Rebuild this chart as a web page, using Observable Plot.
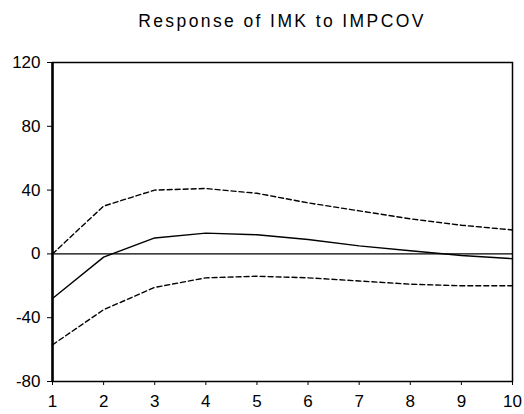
<!DOCTYPE html>
<html>
<head>
<meta charset="utf-8">
<script src="https://cdn.jsdelivr.net/npm/d3@7"></script>
<script src="https://cdn.jsdelivr.net/npm/@observablehq/plot@0.6"></script>
<style>
  html, body { margin: 0; padding: 0; background: #fff; }
  #title { height: 40px; width: 524px; box-sizing: border-box; padding-left: 52px; padding-right: 12px;
           text-align: center; font-family: "Liberation Sans", Arial, sans-serif; font-size: 17.5px;
           letter-spacing: 2.4px; line-height: 17px; padding-top: 13px; color: #000; }
</style>
</head>
<body>
<div id="title">Response of IMK to IMPCOV</div>
<div id="chart"></div>
<script>
const periods = [1, 2, 3, 4, 5, 6, 7, 8, 9, 10];
const response = [-28, -2, 10, 13, 12, 9, 5, 2, -1, -3];
const upperBand = [0, 30, 40, 41, 38, 32, 27, 22, 18, 15];
const lowerBand = [-57, -35, -21, -15, -14, -15, -17, -19, -20, -20];
const yTicks = [-80, -40, 0, 40, 80, 120];

const rows = periods.map((p, i) => ({period: p, response: response[i], upper: upperBand[i], lower: lowerBand[i]}));

const chart = Plot.plot({
  width: 524,
  height: 374,
  marginLeft: 52,
  marginRight: 12,
  marginTop: 22,
  marginBottom: 33,
  style: {fontFamily: "'Liberation Sans', Arial, sans-serif", fontSize: "17px", color: "#000", background: "#fff"},
  x: {domain: [1, 10], ticks: periods, tickFormat: d => String(d), label: null, tickSize: 4, tickPadding: 9},
  y: {domain: [-80, 120], ticks: yTicks, tickFormat: d => String(d), label: null, tickSize: 5, tickPadding: 7},
  marks: [
    Plot.ruleY([0], {stroke: "#000", strokeWidth: 1.2}),
    Plot.line(rows, {x: "period", y: "upper", stroke: "#000", strokeWidth: 1.4, strokeDasharray: "5,3"}),
    Plot.line(rows, {x: "period", y: "lower", stroke: "#000", strokeWidth: 1.4, strokeDasharray: "5,3"}),
    Plot.line(rows, {x: "period", y: "response", stroke: "#000", strokeWidth: 1.4}),
    Plot.frame({stroke: "#000", strokeWidth: 1.5}),
    Plot.ruleX([1], {stroke: "#000", strokeWidth: 2.5})
  ]
});
document.getElementById("chart").appendChild(chart);
</script>
</body>
</html>
